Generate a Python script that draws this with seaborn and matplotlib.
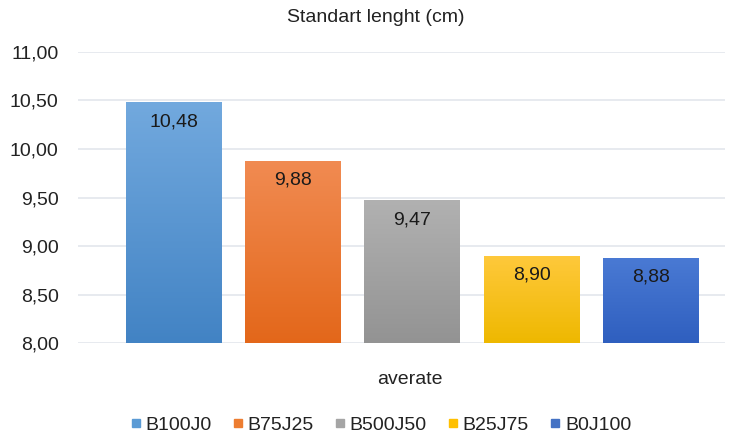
import matplotlib
matplotlib.use("Agg")
import matplotlib.pyplot as plt
import numpy as np
import pandas as pd
import seaborn as sns
from matplotlib.colors import LinearSegmentedColormap
from matplotlib.lines import Line2D

grupos = ["B100J0", "B75J25", "B500J50", "B25J75", "B0J100"]
medias = [10.48, 9.88, 9.47, 8.90, 8.88]
cor_topo = ["#72a9de", "#f18b52", "#b1b1b1", "#ffc93c", "#4a7ad4"]
cor_base = ["#4283c4", "#e3671a", "#939393", "#eeb800", "#2f5fbf"]
cor_legenda = ["#5b9bd5", "#ed7d31", "#a5a5a5", "#ffc000", "#4472c4"]

df = pd.DataFrame({"grupo": grupos, "media": medias})

sns.set_style("white")
plt.rcParams["font.family"] = ["Liberation Sans", "DejaVu Sans"]

fig = plt.figure(figsize=(7.36, 4.36), dpi=100)
ax = fig.add_axes([0.106, 0.213, 0.879, 0.668])

sns.barplot(
    data=df,
    x="grupo",
    y="media",
    hue="grupo",
    palette=cor_legenda,
    width=0.8,
    legend=False,
    ax=ax,
)

# gradiente vertical em cada barra
for patch, c1, c2, valor in zip(ax.patches, cor_topo, cor_base, medias):
    x0 = patch.get_x()
    w = patch.get_width()
    cmap = LinearSegmentedColormap.from_list("g", [c2, c1])
    grad = np.linspace(0, 1, 256).reshape(-1, 1)
    img = ax.imshow(
        grad,
        extent=[x0, x0 + w, 8, valor],
        origin="lower",
        aspect="auto",
        cmap=cmap,
        zorder=2,
    )
    img.set_clip_path(patch)
    patch.set_facecolor("none")
    patch.set_edgecolor("none")
    ax.text(
        x0 + w / 2,
        valor - 0.2,
        f"{valor:.2f}".replace(".", ","),
        ha="center",
        va="center",
        fontsize=14,
        color="#1a1a1a",
        zorder=3,
    )

ax.set_ylim(8, 11)
ax.set_xlim(-0.8, 4.62)
ticks = np.arange(8, 11.01, 0.5)
ax.set_yticks(ticks)
ax.set_yticklabels([f"{v:.2f}".replace(".", ",") for v in ticks])
ax.set_xticks([])
ax.yaxis.grid(True, color="#e3e6ec", linewidth=1.2)
ax.set_axisbelow(True)
for s in ax.spines.values():
    s.set_visible(False)
ax.tick_params(axis="y", length=0, pad=14, labelsize=14, labelcolor="#222222")

ax.set_ylabel("")
ax.set_xlabel("averate", fontsize=14, color="#222222")
ax.xaxis.set_label_coords(0.513, -0.095)
fig.text(376 / 736, 1 - 18 / 436, "Standart lenght (cm)", ha="center", va="center",
         fontsize=14, color="#222222")

handles = [
    Line2D([], [], marker="s", linestyle="", markersize=6, color=c, label=g)
    for g, c in zip(grupos, cor_legenda)
]
fig.legend(
    handles=handles,
    loc="center",
    bbox_to_anchor=(381 / 736, 1 - 425 / 436),
    ncol=5,
    frameon=False,
    fontsize=14,
    handlelength=0.5,
    handletextpad=0.25,
    columnspacing=1.1,
    labelcolor="#222222",
)

fig.savefig("out.png", dpi=100)
